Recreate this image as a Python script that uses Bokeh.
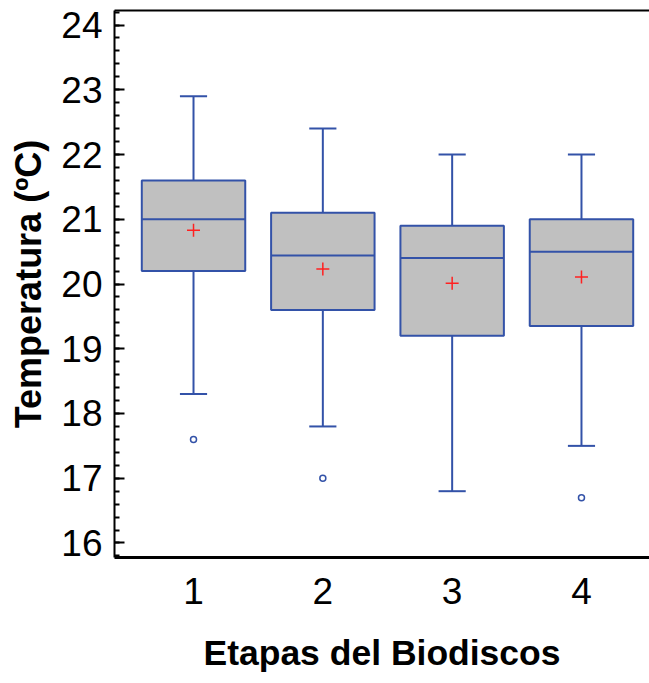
from bokeh.plotting import figure
from bokeh.models import (ColumnDataSource, Range1d, LinearAxis, FixedTicker,
                          SingleIntervalTicker)
from bokeh.transform import dodge
from bokeh.embed import file_html
from bokeh.resources import INLINE

# ---- data ----
stages = [1, 2, 3, 4]
stage_labels = ["1", "2", "3", "4"]
upper_whisker = [22.9, 22.4, 22.0, 22.0]
q3 = [21.6, 21.1, 20.9, 21.0]
median = [21.0, 20.44, 20.4, 20.5]
q1 = [20.2, 19.6, 19.2, 19.35]
lower_whisker = [18.3, 17.8, 16.8, 17.5]
means = [20.83, 20.23, 20.01, 20.11]
outlier_stage = [1, 2, 4]
outlier_value = [17.6, 17.0, 16.7]
y_ticks = [16, 17, 18, 19, 20, 21, 22, 23, 24]
x_title = "Etapas del Biodiscos"
y_title = "Temperatura (ºC)"

BLUE = "#3352a8"
FONT = "Liberation Sans"

src = ColumnDataSource(dict(x=stages, up=upper_whisker, q3=q3, med=median,
                            q1=q1, lo=lower_whisker, mean=means))
out_src = ColumnDataSource(dict(x=outlier_stage, y=outlier_value))

p = figure(width=649, height=683, output_backend="svg", toolbar_location=None,
           x_range=Range1d(0.389, 4.526), y_range=Range1d(15.776, 24.224),
           min_border_left=114, min_border_right=0, min_border_top=10,
           min_border_bottom=126, x_axis_type=None, y_axis_type=None)
p.outline_line_color = None
p.background_fill_color = "white"

# axes
yax = LinearAxis(ticker=SingleIntervalTicker(interval=1, num_minor_ticks=5))
yax.axis_label = y_title
yax.axis_label_text_font = FONT
yax.axis_label_text_font_style = "bold"
yax.axis_label_text_font_size = "36px"
yax.axis_label_text_color = "black"
yax.axis_label_standoff = 9
yax.major_label_text_font = FONT
yax.major_label_text_font_size = "37px"
yax.major_label_text_color = "black"
yax.major_label_standoff = 12
yax.axis_line_width = 2
yax.axis_line_color = "black"
yax.major_tick_in = 10
yax.major_tick_out = 0
yax.minor_tick_in = 5
yax.minor_tick_out = 0
yax.major_tick_line_width = 2
yax.minor_tick_line_width = 2
yax.major_tick_line_color = "black"
yax.minor_tick_line_color = "black"
p.add_layout(yax, "left")

xax = LinearAxis(ticker=FixedTicker(ticks=stages))
xax.major_label_overrides = {s: l for s, l in zip(stages, stage_labels)}
xax.axis_label = x_title
xax.axis_label_text_font = FONT
xax.axis_label_text_font_style = "bold"
xax.axis_label_text_font_size = "35.5px"
xax.axis_label_text_color = "black"
xax.axis_label_standoff = 26
xax.major_label_text_font = FONT
xax.major_label_text_font_size = "37px"
xax.major_label_text_color = "black"
xax.major_label_standoff = 14
xax.axis_line_width = 3
xax.axis_line_color = "black"
xax.major_tick_line_color = None
xax.minor_tick_line_color = None
p.add_layout(xax, "below")

tax = LinearAxis(ticker=FixedTicker(ticks=[]))
tax.axis_line_width = 2
tax.axis_line_color = "black"
tax.major_tick_line_color = None
tax.minor_tick_line_color = None
tax.major_label_text_font_size = "0px"
tax.major_label_standoff = 0
p.add_layout(tax, "above")

# grid
p.ygrid.ticker = FixedTicker(ticks=y_ticks)
p.ygrid.grid_line_color = "#888888"
p.ygrid.grid_line_width = 2
p.xgrid.grid_line_color = None

# whiskers
p.segment(x0="x", y0="q3", x1="x", y1="up", source=src, line_color=BLUE, line_width=2)
p.segment(x0="x", y0="q1", x1="x", y1="lo", source=src, line_color=BLUE, line_width=2)
p.segment(x0=dodge("x", -0.105, range=p.x_range), y0="up",
          x1=dodge("x", 0.105, range=p.x_range), y1="up",
          source=src, line_color=BLUE, line_width=2)
p.segment(x0=dodge("x", -0.105, range=p.x_range), y0="lo",
          x1=dodge("x", 0.105, range=p.x_range), y1="lo",
          source=src, line_color=BLUE, line_width=2)

# boxes
p.vbar(x="x", width=0.8, top="q3", bottom="q1", source=src,
       fill_color="#c0c0c0", line_color=BLUE, line_width=2)
p.segment(x0=dodge("x", -0.4, range=p.x_range), y0="med",
          x1=dodge("x", 0.4, range=p.x_range), y1="med",
          source=src, line_color=BLUE, line_width=2)

# means
p.scatter(x="x", y="mean", source=src, marker="cross", size=13,
          line_color="#ff2020", line_width=1.5)

# outliers
p.scatter(x="x", y="y", source=out_src, marker="circle", size=6,
          line_color=BLUE, fill_color="white", line_width=1.5)

open("out.html", "w").write(file_html(p, INLINE))
